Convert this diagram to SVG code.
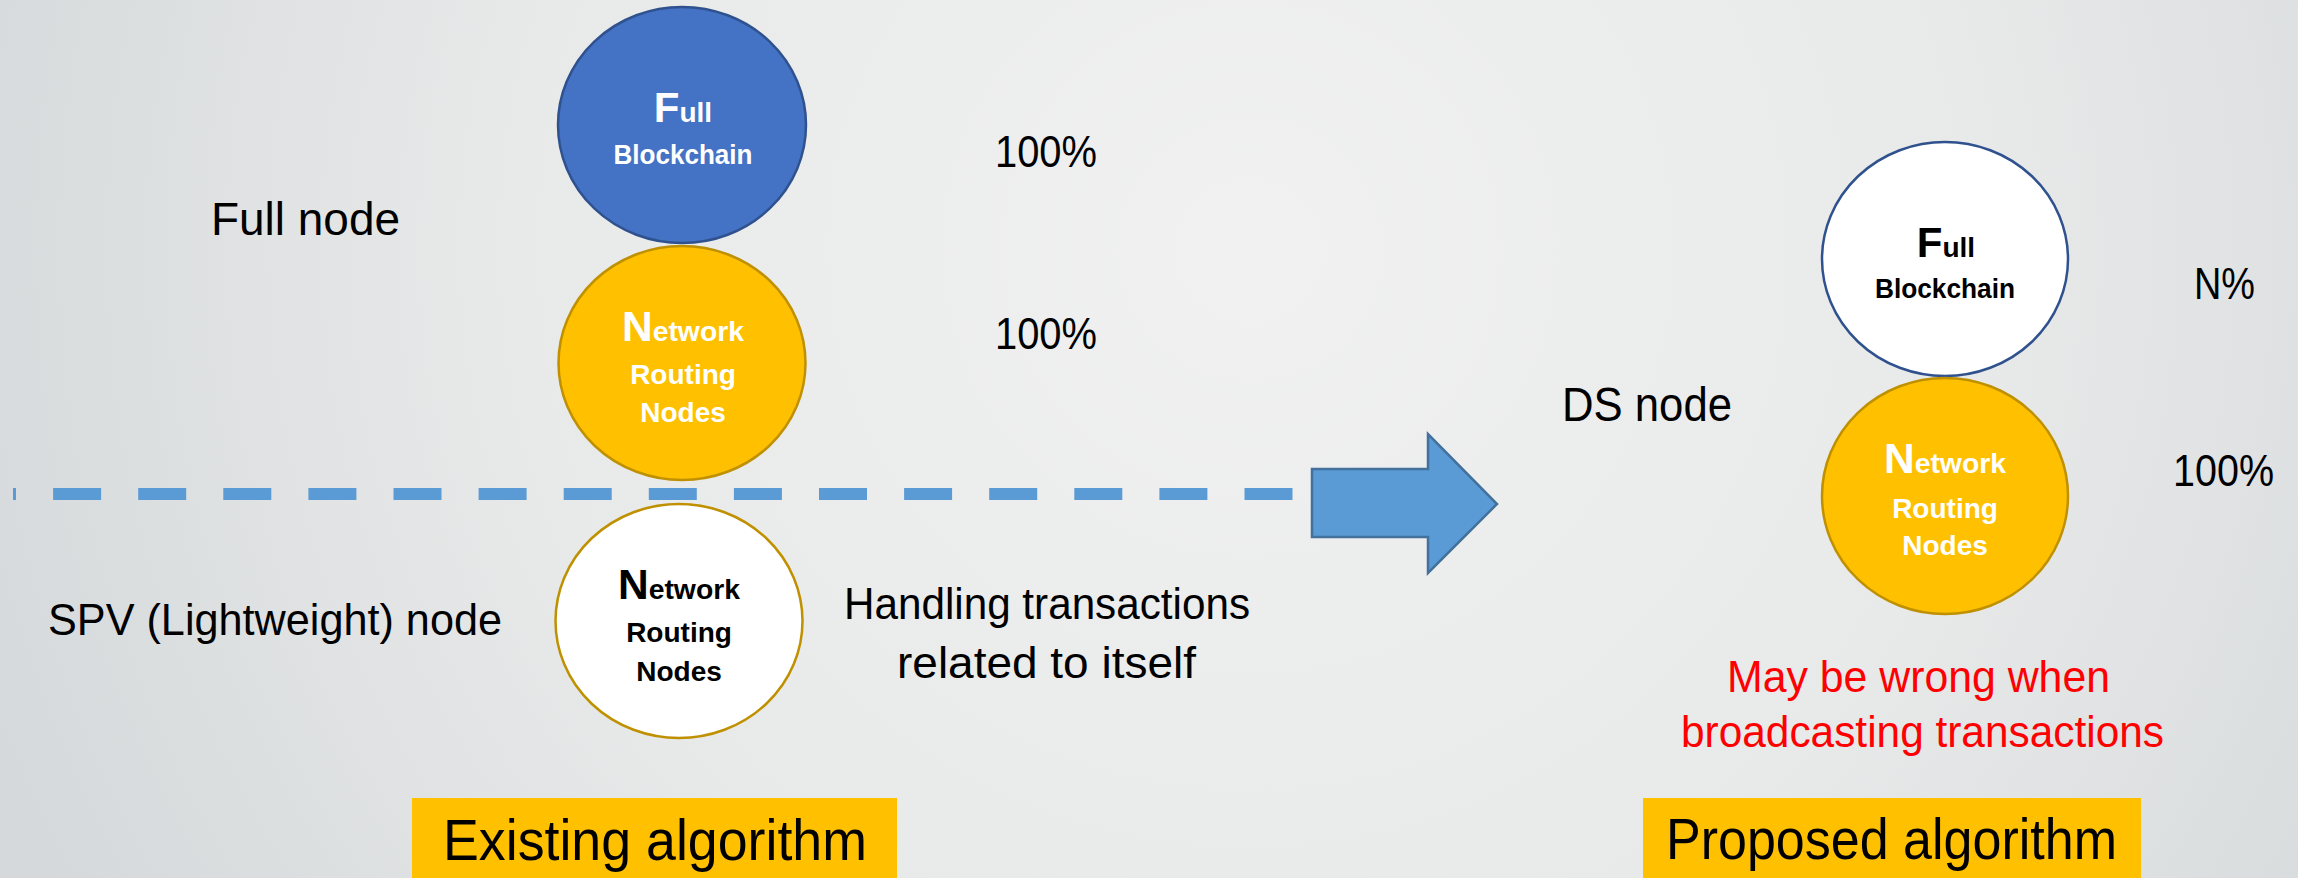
<svg xmlns="http://www.w3.org/2000/svg" width="2298" height="878" viewBox="0 0 2298 878">
  <defs>
    <radialGradient id="bg" gradientUnits="userSpaceOnUse" cx="1250" cy="250" r="1350">
      <stop offset="0" stop-color="#f1f1f1"/>
      <stop offset="0.55" stop-color="#e8e9e9"/>
      <stop offset="1" stop-color="#d5d9db"/>
    </radialGradient>
    <style>
      .lbl { font-family: "Liberation Sans", Arial, sans-serif; fill: #000; }
      .in { font-family: "Liberation Sans", Arial, sans-serif; font-weight: bold; text-anchor: middle; }
      .w { fill: #ffffff; }
      .k { fill: #000000; }
      .big { font-size: 42px; }
      .sm { font-size: 28px; }
      .red { fill: #ff0000; }
      .blue { fill: #4472C4; stroke: #2F528F; stroke-width: 2.5; }
      .gold { fill: #FFC000; stroke: #BF9000; stroke-width: 2.5; }
      .wgold { fill: #ffffff; stroke: #BF9000; stroke-width: 2.5; }
      .wblue { fill: #ffffff; stroke: #2F528F; stroke-width: 2.5; }
    </style>
  </defs>

  <rect x="0" y="0" width="2298" height="878" fill="url(#bg)"/>

  <!-- connectors: divider line and transition arrow -->
  <g id="connectors">
    <line x1="13" y1="494" x2="1293" y2="494" stroke="#5B9BD5" stroke-width="12" stroke-dasharray="48 37.1" stroke-dashoffset="45"/>
    <polygon points="1312,469 1428,469 1428,434 1497,504 1428,573 1428,537 1312,537" fill="#5B9BD5" stroke="#41719C" stroke-width="2.5" stroke-linejoin="miter"/>
  </g>

  <!-- existing algorithm: full node -->
  <g id="full-blockchain">
    <ellipse class="blue" cx="682" cy="125" rx="124" ry="118"/>
    <text class="in w" x="683" y="122"><tspan class="big">F</tspan><tspan class="sm">ull</tspan></text>
    <text class="in w sm" x="683" y="164" textLength="139" lengthAdjust="spacingAndGlyphs">Blockchain</text>
  </g>

  <g id="full-routing">
    <ellipse class="gold" cx="682" cy="363" rx="123.5" ry="117"/>
    <text class="in w" x="683" y="341" textLength="122" lengthAdjust="spacingAndGlyphs"><tspan class="big">N</tspan><tspan class="sm">etwork</tspan></text>
    <text class="in w sm" x="683" y="384">Routing</text>
    <text class="in w sm" x="683" y="422">Nodes</text>
  </g>

  <g id="spv-routing">
    <ellipse class="wgold" cx="679" cy="621" rx="123.5" ry="117"/>
    <text class="in k" x="679" y="599" textLength="122" lengthAdjust="spacingAndGlyphs"><tspan class="big">N</tspan><tspan class="sm">etwork</tspan></text>
    <text class="in k sm" x="679" y="642">Routing</text>
    <text class="in k sm" x="679" y="681">Nodes</text>
  </g>

  <g id="left-labels">
    <text class="lbl" x="211" y="235" font-size="46" textLength="189" lengthAdjust="spacingAndGlyphs">Full node</text>
    <text class="lbl" x="995" y="167" font-size="45" textLength="102" lengthAdjust="spacingAndGlyphs">100%</text>
    <text class="lbl" x="995" y="349" font-size="45" textLength="102" lengthAdjust="spacingAndGlyphs">100%</text>
    <text class="lbl" x="48" y="635" font-size="45" textLength="454" lengthAdjust="spacingAndGlyphs">SPV (Lightweight) node</text>
    <text class="lbl" x="844" y="619" font-size="45" textLength="406" lengthAdjust="spacingAndGlyphs">Handling transactions</text>
    <text class="lbl" x="897" y="678" font-size="45" textLength="299" lengthAdjust="spacingAndGlyphs">related to itself</text>
  </g>

  <!-- proposed algorithm: DS node -->
  <g id="ds-blockchain">
    <ellipse class="wblue" cx="1945" cy="259" rx="123" ry="117"/>
    <text class="in k" x="1946" y="257"><tspan class="big">F</tspan><tspan class="sm">ull</tspan></text>
    <text class="in k sm" x="1945" y="298" textLength="140" lengthAdjust="spacingAndGlyphs">Blockchain</text>
  </g>

  <g id="ds-routing">
    <ellipse class="gold" cx="1945" cy="496" rx="123" ry="118"/>
    <text class="in w" x="1945" y="473" textLength="122" lengthAdjust="spacingAndGlyphs"><tspan class="big">N</tspan><tspan class="sm">etwork</tspan></text>
    <text class="in w sm" x="1945" y="518">Routing</text>
    <text class="in w sm" x="1945" y="555">Nodes</text>
  </g>

  <g id="right-labels">
    <text class="lbl" x="1562" y="421" font-size="48" textLength="170" lengthAdjust="spacingAndGlyphs">DS node</text>
    <text class="lbl" x="2194" y="299" font-size="44" textLength="61" lengthAdjust="spacingAndGlyphs">N%</text>
    <text class="lbl" x="2173" y="486" font-size="44" textLength="101" lengthAdjust="spacingAndGlyphs">100%</text>
    <text class="lbl red" x="1727" y="692" font-size="44" textLength="383" lengthAdjust="spacingAndGlyphs">May be wrong when</text>
    <text class="lbl red" x="1681" y="747" font-size="44" textLength="483" lengthAdjust="spacingAndGlyphs">broadcasting transactions</text>
  </g>

  <!-- captions -->
  <g id="caption-existing">
    <rect x="412" y="798" width="485" height="80" fill="#FFC000"/>
    <text class="lbl" x="443" y="860" font-size="57" textLength="424" lengthAdjust="spacingAndGlyphs">Existing algorithm</text>
  </g>
  <g id="caption-proposed">
    <rect x="1643" y="798" width="498" height="80" fill="#FFC000"/>
    <text class="lbl" x="1666" y="859" font-size="57" textLength="451" lengthAdjust="spacingAndGlyphs">Proposed algorithm</text>
  </g>
</svg>
